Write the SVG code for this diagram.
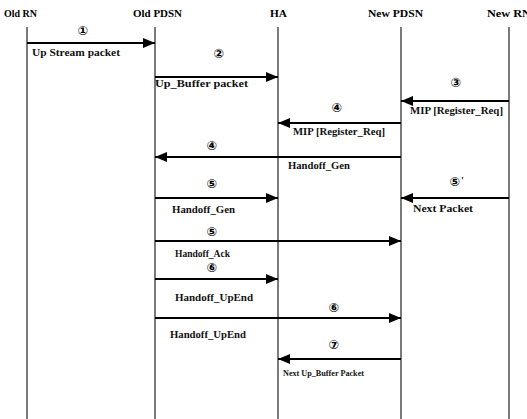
<svg xmlns="http://www.w3.org/2000/svg" width="527" height="419" viewBox="0 0 527 419">
<style>
.hdr{font-family:"Liberation Serif",serif;font-weight:bold;font-size:11px;fill:#000}
.lbl{font-family:"Liberation Serif",serif;font-size:10.5px;font-weight:bold;fill:#111}
.sm{font-size:9.5px}
.xs{font-size:8.5px}
.num{font-family:"DejaVu Sans",sans-serif;font-size:12.5px;font-weight:bold;fill:#000;text-anchor:middle}
.life{stroke:#222;stroke-width:1.2}
.msg{stroke:#000;stroke-width:2.2;fill:none}
</style>
<defs>
<marker id="ah" viewBox="0 0 12 10" refX="12" refY="5" markerWidth="12" markerHeight="10" markerUnits="userSpaceOnUse" orient="auto">
<path d="M0,0 L12,5 L0,10 Z" fill="#000"/>
</marker>
</defs>
<rect width="527" height="419" fill="#fff"/>
<g id="old-rn"><text class="hdr" x="4" y="17" textLength="33" lengthAdjust="spacingAndGlyphs">Old RN</text><line class="life" x1="27" y1="27" x2="27" y2="419"/></g>
<g id="old-pdsn"><text class="hdr" x="133" y="17" textLength="49" lengthAdjust="spacingAndGlyphs">Old PDSN</text><line class="life" x1="155" y1="27" x2="155" y2="419"/></g>
<g id="ha"><text class="hdr" x="270" y="17" textLength="17" lengthAdjust="spacingAndGlyphs">HA</text><line class="life" x1="278" y1="27" x2="278" y2="419"/></g>
<g id="new-pdsn"><text class="hdr" x="368" y="17" textLength="55" lengthAdjust="spacingAndGlyphs">New PDSN</text><line class="life" x1="401" y1="27" x2="401" y2="419"/></g>
<g id="new-rn"><text class="hdr" x="487" y="17" textLength="44" lengthAdjust="spacingAndGlyphs">New RN</text><line class="life" x1="509" y1="27" x2="509" y2="419"/></g>
<g id="connectors">
<line class="msg" x1="27" y1="43" x2="155" y2="43" marker-end="url(#ah)"/>
<text class="num" x="83" y="35">①</text>
<text class="lbl" x="32" y="56" textLength="88" lengthAdjust="spacingAndGlyphs">Up Stream packet</text>

<line class="msg" x1="155" y1="77" x2="278" y2="77" marker-end="url(#ah)"/>
<text class="num" x="219" y="58">②</text>
<text class="lbl" x="155" y="87" textLength="93" lengthAdjust="spacingAndGlyphs">Up_Buffer packet</text>

<line class="msg" x1="509" y1="101" x2="401" y2="101" marker-end="url(#ah)"/>
<text class="num" x="456" y="87">③</text>
<text class="lbl" x="410" y="114" textLength="93" lengthAdjust="spacingAndGlyphs">MIP [Register_Req]</text>

<line class="msg" x1="401" y1="123" x2="278" y2="123" marker-end="url(#ah)"/>
<text class="num" x="337" y="112">④</text>
<text class="lbl" x="293" y="135" textLength="92" lengthAdjust="spacingAndGlyphs">MIP [Register_Req]</text>

<line class="msg" x1="401" y1="157" x2="155" y2="157" marker-end="url(#ah)"/>
<text class="num" x="212" y="150">④</text>
<text class="lbl" x="288" y="169" textLength="62" lengthAdjust="spacingAndGlyphs">Handoff_Gen</text>

<line class="msg" x1="155" y1="198" x2="278" y2="198" marker-end="url(#ah)"/>
<text class="num" x="212" y="188">⑤</text>
<text class="lbl" x="172" y="213" textLength="63" lengthAdjust="spacingAndGlyphs">Handoff_Gen</text>

<line class="msg" x1="509" y1="198" x2="401" y2="198" marker-end="url(#ah)"/>
<text class="num" x="455" y="186">⑤</text><text class="lbl" x="461" y="184">'</text>
<text class="lbl" x="413" y="212" textLength="60" lengthAdjust="spacingAndGlyphs">Next Packet</text>

<line class="msg" x1="155" y1="241" x2="401" y2="241" marker-end="url(#ah)"/>
<text class="num" x="212" y="236">⑤</text>
<text class="lbl sm" x="175" y="257" textLength="55" lengthAdjust="spacingAndGlyphs">Handoff_Ack</text>

<line class="msg" x1="155" y1="279" x2="278" y2="279" marker-end="url(#ah)"/>
<text class="num" x="212" y="272">⑥</text>
<text class="lbl" x="175" y="301" textLength="78" lengthAdjust="spacingAndGlyphs">Handoff_UpEnd</text>

<line class="msg" x1="155" y1="318" x2="401" y2="318" marker-end="url(#ah)"/>
<text class="num" x="334" y="312">⑥</text>
<text class="lbl" x="170" y="338" textLength="76" lengthAdjust="spacingAndGlyphs">Handoff_UpEnd</text>

<line class="msg" x1="401" y1="359" x2="278" y2="359" marker-end="url(#ah)"/>
<text class="num" x="334" y="349">⑦</text>
<text class="lbl xs" x="283" y="376" textLength="81" lengthAdjust="spacingAndGlyphs">Next Up_Buffer Packet</text>
</g>
</svg>
